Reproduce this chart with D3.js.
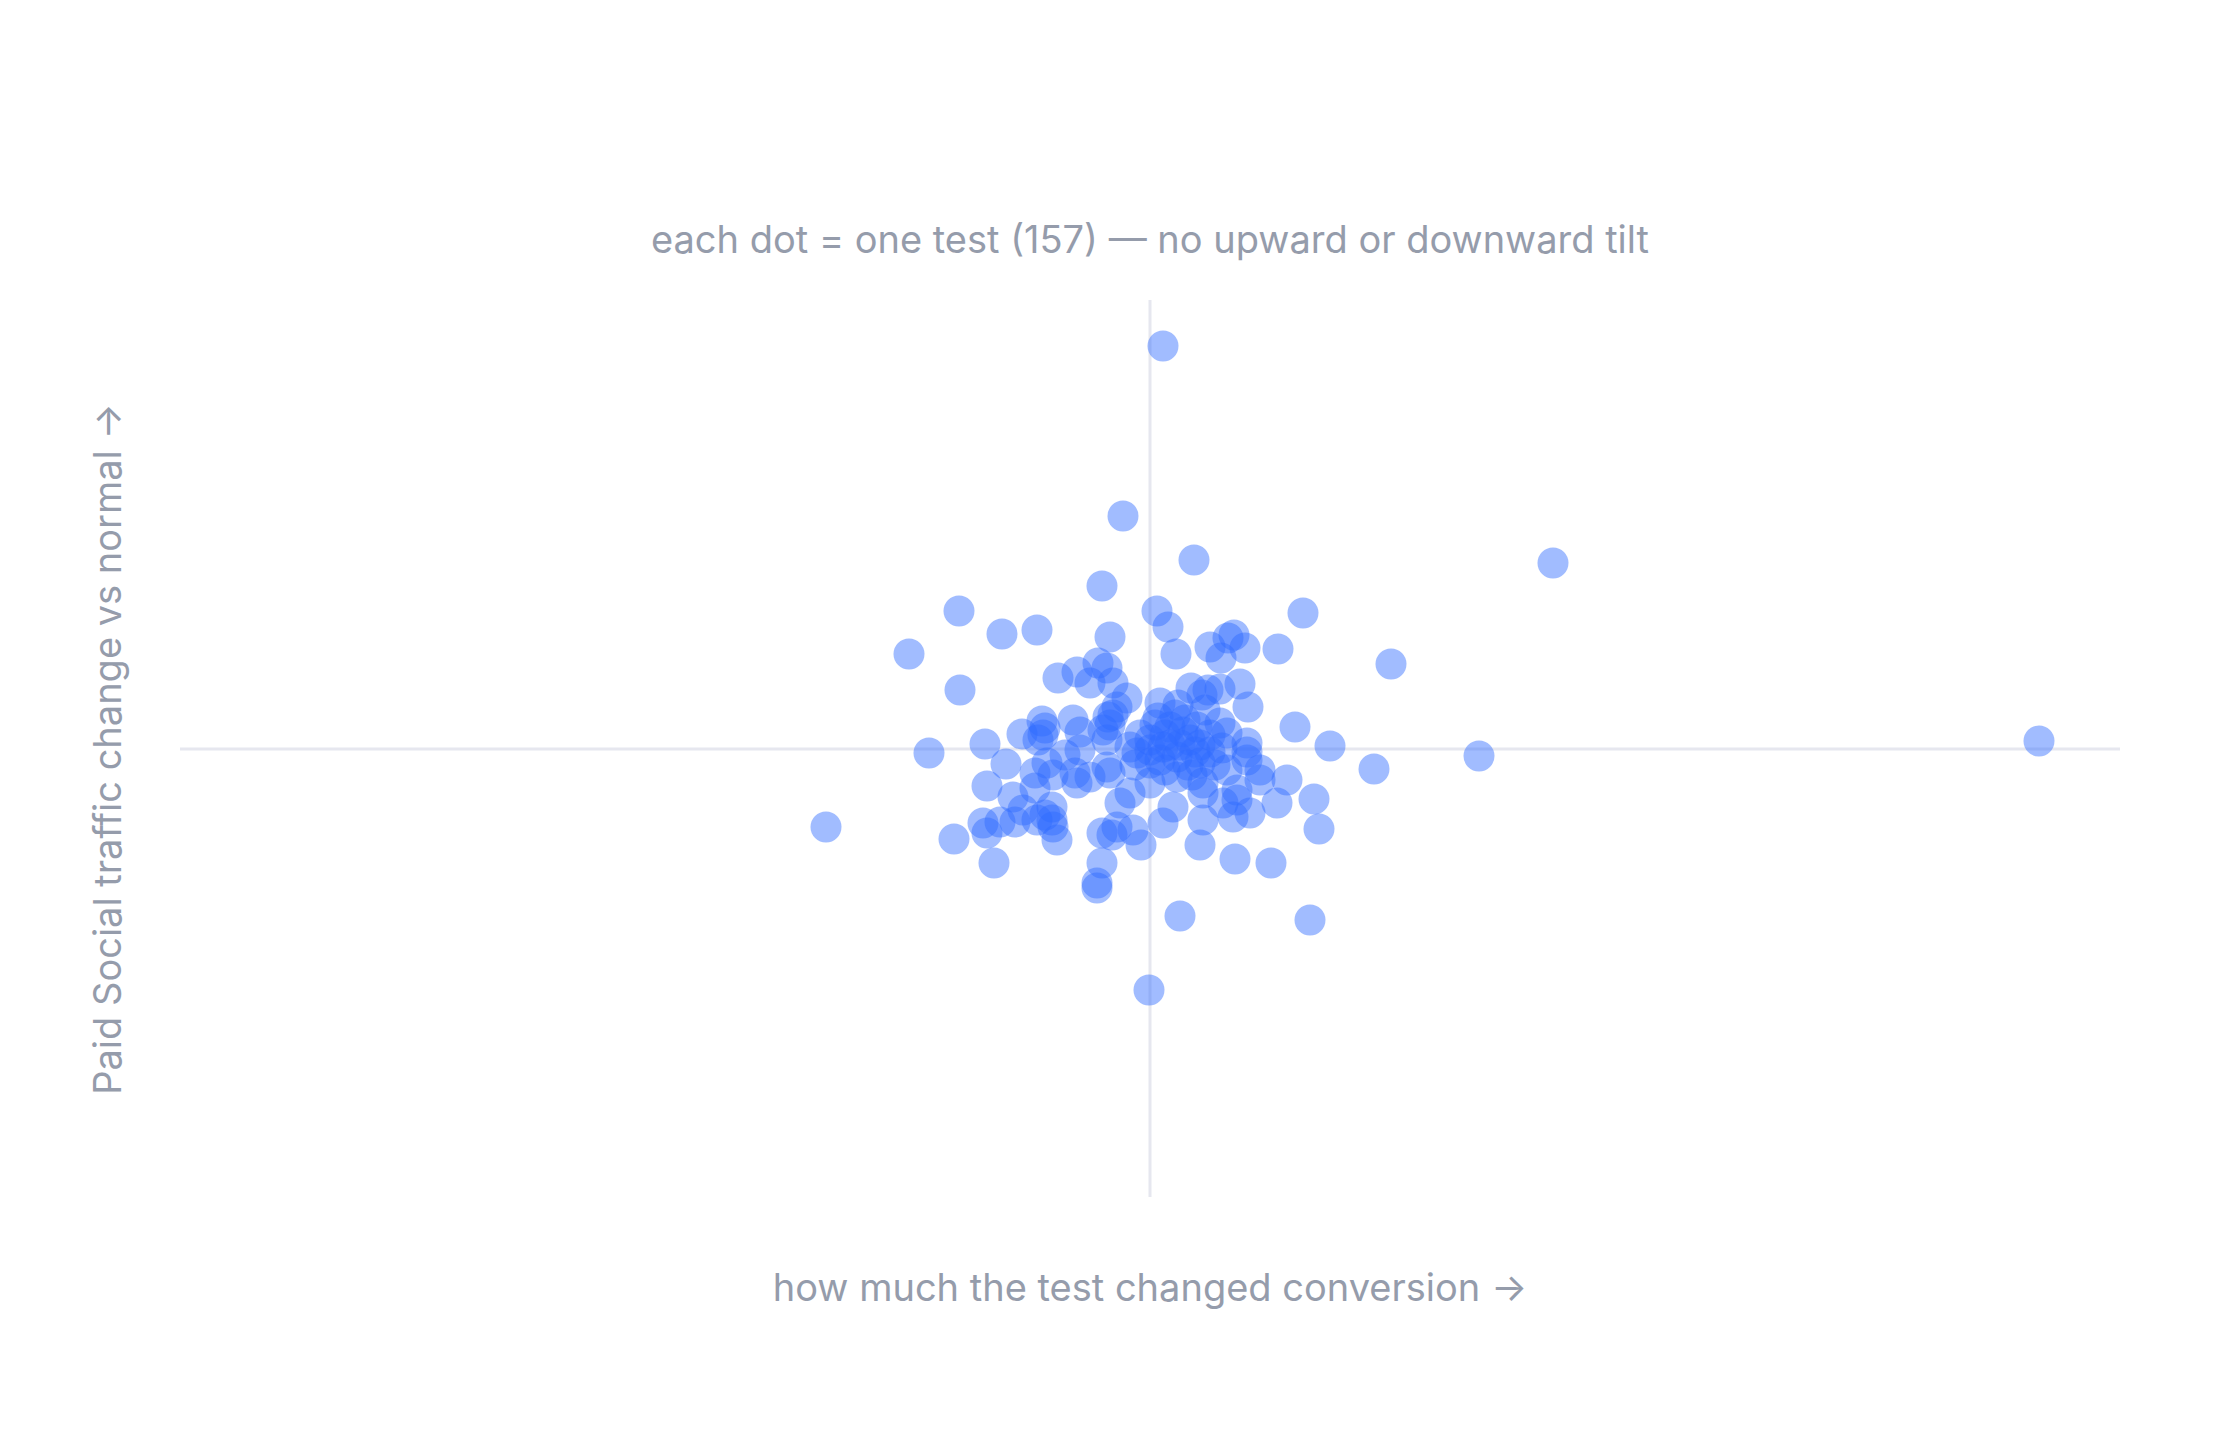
<!DOCTYPE html>
<html>
<head>
<meta charset="utf-8">
<script src="https://cdn.jsdelivr.net/npm/d3@7"></script>
<style>
	html, body { margin: 0; padding: 0; background: #fff; }
	svg { display: block; font-family: Inter, 'Noto Sans', sans-serif; }
</style>
</head>
<body>
<svg id="scatter"></svg>
<script>
// one entry per test: conversion lift (x) and paid social traffic change (y)
const convChange = [
	0.13, -0.27, 0.44, 4.03, 1.53, 2.41, 8.89, 3.29, 2.24, 1.80, -3.24, 0.30, 1.60, -0.01, 1.69, 1.64,
	-0.48, -1.91, -1.48, -1.13, -2.41, -1.90, 0.07, 0.18, -0.40, 0.26, 0.60, 0.78, 0.84, 0.95, 0.71, 1.28,
	-0.92, -0.73, -0.52, -0.43, -0.60, -0.37, 0.41, 0.52, 0.70, 0.90, 0.98, -0.23, -0.33, -0.42, 1.45,
	-2.21, -1.65, -1.28, -1.08, -1.07, -1.12, -0.77, -0.70, -0.47, -0.43, 0.08, 0.20, 0.33, 0.47, 0.70,
	0.77, 0.97, 0.97, -1.44, -1.63, -1.37, -1.15, -1.03, -0.85, -0.70, -0.97, -1.15, -0.73, -0.60, -0.40,
	-0.13, 0.00, 0.13, 0.27, 0.50, 0.53, 0.00, 0.27, 0.77, 1.10, 1.37, 1.27, -0.20, -0.30, 0.23, 0.13,
	0.53, 0.73, 0.87, 1.00, 0.83, 0.50, 0.85, 1.21, -1.67, -1.63, -1.50, -1.35, -1.96, -1.56, -0.98, -0.97,
	-0.93, -0.48, -0.38, -0.17, -0.09, -0.48, -0.53, -0.53, -1.27,
	0.58, 1.10, -0.20, -0.43, 0.87, 0.53, -1.13, -0.75, -0.33,
	0.05, 0.15, 0.25, 0.35, 0.40, 0.50, 0.60, 0.10, 0.20, 0.30, 0.45, 0.60, 0.00, 0.65, -0.10, 0.38,
	0.15, 0.55, 0.28, 0.10, 0.72, -0.15, 0.42, 0.00, -1.05, -0.98, 0.97, -0.40, -0.37, -1.05
];
const trafficChange = [
	4.03, 2.33, 1.89, 1.86, 1.36, 0.85, 0.08, -0.07, -0.20, 0.03, -0.78, -1.67, -1.71, -2.41, -0.80, -0.50,
	1.63, 1.38, 1.15, 1.19, 0.95, 0.59, 1.38, 1.22, 1.12, 0.95, 1.02, 1.11, 1.14, 1.01, 0.91, 1.00,
	0.71, 0.77, 0.86, 0.81, 0.66, 0.66, 0.61, 0.54, 0.60, 0.65, 0.42, 0.51, 0.42, 0.32, 0.22,
	-0.04, 0.05, 0.15, 0.28, 0.14, 0.09, 0.29, 0.17, 0.19, 0.09, 0.31, 0.22, 0.17, 0.22, 0.26,
	0.16, 0.06, -0.11, -0.15, -0.37, -0.48, -0.39, -0.14, -0.06, -0.01, -0.26, -0.24, -0.34, -0.28, -0.24,
	-0.04, -0.14, 0.02, -0.08, -0.14, -0.34, -0.34, -0.28, -0.21, -0.31, -0.31, -0.54, -0.44, -0.54, -0.58, -0.74,
	-0.71, -0.54, -0.51, -0.64, -0.68, -0.96, -1.10, -1.14, -0.74, -0.84, -0.73, -0.73, -0.90, -1.14, -0.58, -0.78,
	-0.91, -0.84, -0.86, -0.81, -0.96, -1.14, -1.34, -1.39, -0.61,
	0.59, -0.21, 0.02, -0.18, -0.41, -0.44, -0.71, -0.24, -0.78,
	0.24, 0.14, 0.34, 0.29, 0.09, 0.04, 0.14, -0.11, 0.04, 0.04, -0.03, -0.03, 0.09, -0.16, 0.14, -0.16,
	-0.21, 0.39, 0.44, 0.46, 0.01, -0.16, -0.26, -0.01, -0.66, -0.71, -0.03, 0.24, 0.34, 0.21
];
const xDomain = [-9.7, 9.7];
const yDomain = [-4.48, 4.49];

const titleText = 'each dot = one test (' + convChange.length + ') \u2014 no upward or downward tilt';
const xLabel = 'how much the test changed conversion \u2192';
const yLabel = 'Paid Social traffic change vs normal \u2192';

const width = 2240;
const height = 1448;
const margin = { top: 300, right: 120, bottom: 251, left: 180 };
const textColor = '#959cab';
const fontSize = '38px';

const svg = d3.select('#scatter').attr('width', width).attr('height', height);

const x = d3.scaleLinear().domain(xDomain).range([margin.left, width - margin.right]);
const y = d3.scaleLinear().domain(yDomain).range([height - margin.bottom, margin.top]);

const points = convChange.map((d, i) => ({ x: d, y: trafficChange[i] }));

// zero lines
svg.append('line')
	.attr('x1', x.range()[0]).attr('x2', x.range()[1])
	.attr('y1', y(0)).attr('y2', y(0))
	.attr('stroke', '#e6e7ef').attr('stroke-width', 3);
svg.append('line')
	.attr('x1', x(0)).attr('x2', x(0))
	.attr('y1', y.range()[0]).attr('y2', y.range()[1])
	.attr('stroke', '#e6e7ef').attr('stroke-width', 3);

svg.append('g')
	.selectAll('circle')
	.data(points)
	.enter()
	.append('circle')
	.attr('cx', (d) => x(d.x))
	.attr('cy', (d) => y(d.y))
	.attr('r', 15.5)
	.attr('fill', '#2f6bff')
	.attr('fill-opacity', 0.45);

svg.append('text')
	.attr('x', x(0)).attr('y', 239)
	.attr('text-anchor', 'middle').attr('dominant-baseline', 'central')
	.attr('fill', textColor).style('font-size', fontSize)
	.text(titleText);

svg.append('text')
	.attr('x', x(0)).attr('y', 1287)
	.attr('text-anchor', 'middle').attr('dominant-baseline', 'central')
	.attr('fill', textColor).style('font-size', fontSize)
	.text(xLabel);

svg.append('text')
	.attr('transform', 'translate(107,' + y(0) + ') rotate(-90)')
	.attr('text-anchor', 'middle').attr('dominant-baseline', 'central')
	.attr('fill', textColor).style('font-size', fontSize)
	.text(yLabel);
</script>
</body>
</html>
